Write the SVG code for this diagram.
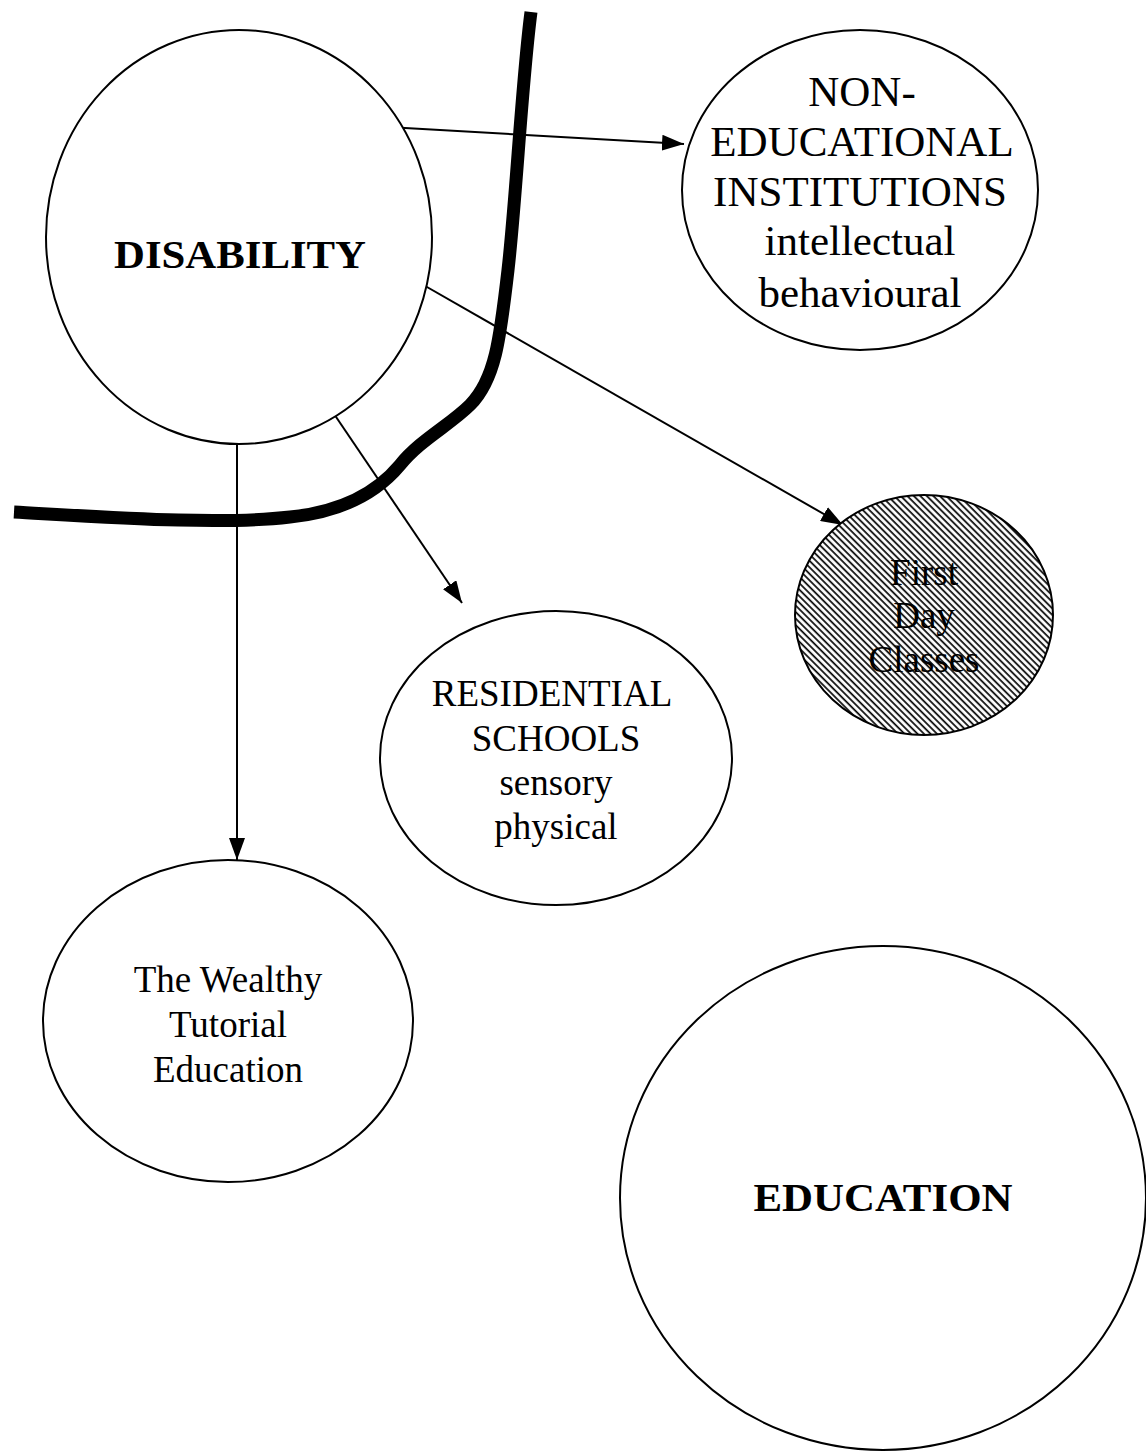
<svg xmlns="http://www.w3.org/2000/svg" width="1146" height="1451" viewBox="0 0 1146 1451">
<style>
.n{fill:#fff;stroke:#000;stroke-width:2}
.t{font-family:"Liberation Serif","Times New Roman",serif;font-size:37px;text-anchor:middle;fill:#000}
.l{font-size:43px}
.b{font-weight:bold;font-size:40px}
.c{stroke:#000;stroke-width:2;fill:none;marker-end:url(#ah)}
</style>
<defs>
<marker id="ah" viewBox="0 0 22 16" refX="22" refY="8" markerWidth="22" markerHeight="16" markerUnits="userSpaceOnUse" orient="auto"><path d="M0,0 L22,8 L0,16 z" fill="#000"/></marker>
<pattern id="hatch" width="4.6" height="4.6" patternUnits="userSpaceOnUse" patternTransform="rotate(-45)"><rect width="4.6" height="4.6" fill="#fff"/><line x1="1.1" y1="0" x2="1.1" y2="4.6" stroke="#000" stroke-width="1.7"/></pattern>
</defs>
<path d="M531,12 C522,80 516,200 508,270 C500,340 495,380 470,405 C450,425 420,440 400,465 C375,495 340,512 290,517 C220,525 120,518 14,512" fill="none" stroke="#000" stroke-width="13" stroke-linecap="butt"/>
<g id="connectors">
<line class="c" x1="370" y1="126" x2="684" y2="144"/>
<line class="c" x1="420" y1="283" x2="843" y2="525"/>
<line class="c" x1="330" y1="408" x2="462" y2="603"/>
<line class="c" x1="237" y1="440" x2="237" y2="860"/>
</g>
<g id="disability"><ellipse class="n" cx="239" cy="237" rx="193" ry="207"/><text class="t b" x="240" y="268" textLength="252" lengthAdjust="spacingAndGlyphs">DISABILITY</text></g>
<g id="noneducational"><ellipse class="n" cx="860" cy="190" rx="178" ry="160"/>
<text class="t l" x="862" y="106">NON-</text><text class="t l" x="862" y="156">EDUCATIONAL</text><text class="t l" x="860" y="206">INSTITUTIONS</text><text class="t l" x="860" y="255">intellectual</text><text class="t l" x="860" y="307">behavioural</text></g>
<g id="firstday"><ellipse cx="924" cy="615" rx="129" ry="120" fill="url(#hatch)" stroke="#000" stroke-width="2"/>
<text class="t" x="924" y="585">First</text><text class="t" x="924" y="628">Day</text><text class="t" x="924" y="672">Classes</text></g>
<g id="residential"><ellipse class="n" cx="556" cy="758" rx="176" ry="147"/>
<text class="t" x="552" y="706">RESIDENTIAL</text><text class="t" x="556" y="751">SCHOOLS</text><text class="t" x="556" y="795">sensory</text><text class="t" x="556" y="839">physical</text></g>
<g id="wealthy"><ellipse class="n" cx="228" cy="1021" rx="185" ry="161"/>
<text class="t" x="228" y="992">The Wealthy</text><text class="t" x="228" y="1037">Tutorial</text><text class="t" x="228" y="1082">Education</text></g>
<g id="education"><ellipse class="n" cx="883" cy="1198" rx="263" ry="252"/><text class="t b" x="883" y="1211" textLength="259" lengthAdjust="spacingAndGlyphs">EDUCATION</text></g>
</svg>
